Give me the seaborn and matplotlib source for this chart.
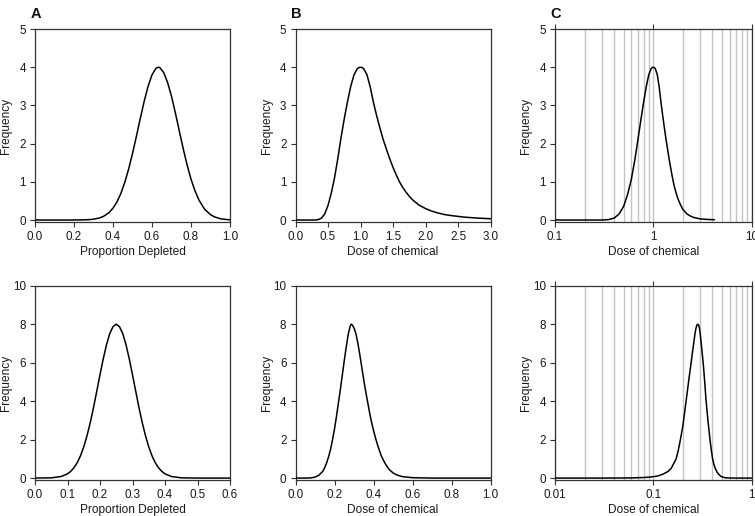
import pandas as pd
import seaborn as sns
import matplotlib.pyplot as plt
from matplotlib.ticker import LogLocator, NullFormatter

# Estilo base
sns.set_theme(style="ticks")
plt.rcParams['font.family'] = ['Liberation Sans', 'DejaVu Sans']

# ---- Datos ----
# A (arriba): proporcion agotada
prop_top = [0.0, 0.2, 0.25, 0.28, 0.3, 0.33, 0.35, 0.38, 0.4, 0.42, 0.44, 0.46, 0.48,
            0.50, 0.52, 0.54, 0.56, 0.58, 0.60, 0.62, 0.633, 0.64, 0.66, 0.68, 0.70,
            0.72, 0.74, 0.76, 0.78, 0.80, 0.82, 0.84, 0.87, 0.90, 0.92, 0.95, 0.97, 1.0]
freq_a_top = [0.0, 0.0, 0.004, 0.011, 0.021, 0.053, 0.091, 0.195, 0.31, 0.47, 0.69, 0.98,
              1.33, 1.74, 2.19, 2.66, 3.11, 3.50, 3.80, 3.97, 4.0, 3.99, 3.86, 3.60, 3.24,
              2.80, 2.33, 1.87, 1.44, 1.07, 0.77, 0.53, 0.28, 0.14, 0.082, 0.035, 0.019,
              0.005]

# B (arriba): dosis
dose_b_top = [0.0, 0.3, 0.35, 0.4, 0.45, 0.5, 0.55, 0.6, 0.65, 0.7, 0.75, 0.8, 0.85,
              0.9, 0.95, 0.975, 1.0, 1.025, 1.05, 1.1, 1.15, 1.2, 1.25, 1.3, 1.35, 1.4,
              1.45, 1.5, 1.55, 1.6, 1.65, 1.7, 1.75, 1.8, 1.9, 2.0, 2.1, 2.2, 2.3, 2.4,
              2.5, 2.6, 2.8, 3.0]
freq_b_top = [0.0, 0.0, 0.01, 0.05, 0.16, 0.38, 0.70, 1.10, 1.60, 2.15, 2.65, 3.10, 3.50,
              3.80, 3.96, 3.99, 4.0, 3.99, 3.96, 3.80, 3.48, 3.07, 2.72, 2.40, 2.10, 1.85,
              1.60, 1.38, 1.18, 1.0, 0.85, 0.73, 0.62, 0.53, 0.39, 0.30, 0.23, 0.18, 0.14,
              0.115, 0.095, 0.075, 0.05, 0.033]

# C (arriba): dosis en escala log
dose_c_top = [0.1, 0.2, 0.3, 0.35, 0.4, 0.45, 0.5, 0.55, 0.6, 0.65, 0.7, 0.75, 0.8,
              0.85, 0.9, 0.95, 0.975, 1.0, 1.025, 1.05, 1.1, 1.15, 1.2, 1.25, 1.3, 1.35,
              1.4, 1.45, 1.5, 1.55, 1.6, 1.65, 1.7, 1.75, 1.8, 1.9, 2.0, 2.2, 2.4, 2.6,
              3.0, 3.5, 4.2]
freq_c_top = [0.0, 0.0, 0.0, 0.01, 0.05, 0.16, 0.36, 0.68, 1.08, 1.58, 2.12, 2.64, 3.10,
              3.50, 3.80, 3.96, 3.99, 4.0, 3.99, 3.96, 3.80, 3.48, 3.07, 2.72, 2.40, 2.10,
              1.85, 1.60, 1.38, 1.18, 1.0, 0.85, 0.73, 0.62, 0.53, 0.39, 0.28, 0.16, 0.10,
              0.065, 0.03, 0.015, 0.008]

# A (abajo)
prop_bot = [0.0, 0.05, 0.08, 0.10, 0.11, 0.12, 0.13, 0.14, 0.15, 0.16, 0.17, 0.18, 0.19,
            0.20, 0.21, 0.22, 0.23, 0.24, 0.25, 0.26, 0.27, 0.28, 0.29, 0.30, 0.31, 0.32,
            0.33, 0.34, 0.35, 0.36, 0.37, 0.38, 0.39, 0.40, 0.42, 0.45, 0.5, 0.6]
freq_a_bot = [0.0, 0.013, 0.08, 0.22, 0.35, 0.54, 0.80, 1.16, 1.62, 2.20, 2.88, 3.66,
              4.51, 5.37, 6.20, 6.93, 7.51, 7.87, 8.0, 7.87, 7.51, 6.93, 6.20, 5.37, 4.51,
              3.66, 2.88, 2.20, 1.62, 1.16, 0.80, 0.54, 0.35, 0.22, 0.08, 0.013, 0.0, 0.0]

# B (abajo)
dose_b_bot = [0.0, 0.05, 0.08, 0.10, 0.12, 0.14, 0.15, 0.16, 0.17, 0.18, 0.19, 0.20,
              0.21, 0.22, 0.23, 0.24, 0.25, 0.26, 0.27, 0.28, 0.286, 0.292, 0.30, 0.31,
              0.32, 0.33, 0.34, 0.35, 0.36, 0.37, 0.38, 0.39, 0.40, 0.41, 0.42, 0.44,
              0.46, 0.48, 0.50, 0.52, 0.55, 0.6, 0.7, 1.0]
freq_b_bot = [0.0, 0.0, 0.01, 0.05, 0.15, 0.35, 0.55, 0.80, 1.12, 1.50, 2.0, 2.55, 3.20,
              3.90, 4.60, 5.35, 6.10, 6.80, 7.45, 7.88, 8.0, 7.95, 7.80, 7.50, 7.00, 6.40,
              5.75, 5.10, 4.50, 3.95, 3.40, 2.90, 2.48, 2.10, 1.75, 1.15, 0.75, 0.45, 0.27,
              0.16, 0.07, 0.02, 0.0, 0.0]

# C (abajo)
dose_c_bot = [0.01, 0.03, 0.05, 0.062, 0.08, 0.092, 0.11, 0.125, 0.14, 0.152, 0.171,
              0.18, 0.189, 0.2, 0.216, 0.23, 0.243, 0.25, 0.258, 0.265, 0.272, 0.278,
              0.284, 0.29, 0.295, 0.3, 0.307, 0.315, 0.324, 0.334, 0.344, 0.36, 0.378,
              0.39, 0.402, 0.415, 0.428, 0.445, 0.463, 0.485, 0.508, 0.55, 0.65, 1.0]
freq_c_bot = [0.0, 0.0, 0.005, 0.01, 0.03, 0.05, 0.10, 0.20, 0.33, 0.50, 1.0, 1.45, 2.0,
              2.7, 4.0, 5.1, 6.0, 6.5, 7.0, 7.45, 7.78, 7.95, 8.0, 7.95, 7.8, 7.55, 7.05,
              6.5, 5.85, 5.0, 4.1, 3.0, 2.0, 1.45, 1.0, 0.7, 0.5, 0.32, 0.2, 0.1, 0.05,
              0.01, 0.0, 0.0]

W, H = 755, 516
fig = plt.figure(figsize=(W / 100, H / 100), dpi=100)

panels = [
    # (x, y, left, top, right, bottom, xlim, xticks, xticklabels, ylim, yticks, xlabel, log)
    (prop_top, freq_a_top, 35, 29, 230, 222.3, (0, 1), [0, .2, .4, .6, .8, 1.0], None,
     (-0.06, 5), range(0, 6), "Proportion Depleted", False),
    (dose_b_top, freq_b_top, 295.5, 29, 490.5, 222.3, (0, 3), [0, .5, 1, 1.5, 2, 2.5, 3], None,
     (-0.06, 5), range(0, 6), "Dose of chemical", False),
    (dose_c_top, freq_c_top, 555, 29, 751.5, 222.3, (0.1, 10), [0.1, 1, 10], ["0.1", "1", "10"],
     (-0.06, 5), range(0, 6), "Dose of chemical", True),
    (prop_bot, freq_a_bot, 35, 285.7, 230, 480, (0, 0.6), [0, .1, .2, .3, .4, .5, .6], None,
     (-0.1, 10), range(0, 11, 2), "Proportion Depleted", False),
    (dose_b_bot, freq_b_bot, 295.5, 285.7, 490.5, 480, (0, 1), [0, .2, .4, .6, .8, 1.0], None,
     (-0.1, 10), range(0, 11, 2), "Dose of chemical", False),
    (dose_c_bot, freq_c_bot, 555, 285.7, 751.5, 480, (0.01, 1), [0.01, 0.1, 1], ["0.01", "0.1", "1"],
     (-0.1, 10), range(0, 11, 2), "Dose of chemical", True),
]

spine_col = "#333333"
for (x, y, l, t, r, b, xlim, xt, xtl, ylim, yt, xlabel, log) in panels:
    ax = fig.add_axes([l / W, 1 - b / H, (r - l) / W, (b - t) / H])
    df = pd.DataFrame({"x": x, "y": y})
    if log:
        ax.set_xscale("log")
        ax.xaxis.set_minor_locator(LogLocator(base=10, subs=range(2, 10)))
        ax.xaxis.set_minor_formatter(NullFormatter())
        ax.grid(True, which="both", axis="x", color="#c4c4c4", linewidth=1.0)
        ax.tick_params(axis="x", which="minor", length=0)
        ax.tick_params(axis="x", which="major", top=True)
    sns.lineplot(data=df, x="x", y="y", ax=ax, color="black", linewidth=1.1,
                 estimator=None, sort=False, zorder=3)
    ax.set_xlim(*xlim)
    ax.set_ylim(*ylim)
    ax.set_xticks(xt)
    if xtl is not None:
        ax.set_xticklabels(xtl)
    else:
        ax.set_xticklabels([f"{v:.1f}" for v in xt])
    ax.set_yticks(list(yt))
    for s in ax.spines.values():
        s.set_visible(True)
        s.set_color(spine_col)
        s.set_linewidth(0.9)
    ax.tick_params(axis="both", which="major", direction="out", length=3.5, width=0.8,
                   color=spine_col, labelsize=8.4, labelcolor="#1a1a1a", pad=3)
    ax.set_xlabel(xlabel, fontsize=8.6, color="#1a1a1a")
    ax.set_ylabel("Frequency", fontsize=8.6, color="#1a1a1a")
    wpx, hpx = r - l, b - t
    ax.xaxis.set_label_coords(0.5, -24 / hpx)
    ax.yaxis.set_label_coords(-29 / wpx, 0.5)
    ax.yaxis.label.set_va("center")

# Letras de panel
for letter, xpos in [("A", 31), ("B", 290.5), ("C", 550)]:
    fig.text(xpos / W, 1 - 17.5 / H, letter, fontsize=10.5, fontweight="bold",
             va="baseline", ha="left", color="#111111")

fig.savefig("out.png", dpi=100)
